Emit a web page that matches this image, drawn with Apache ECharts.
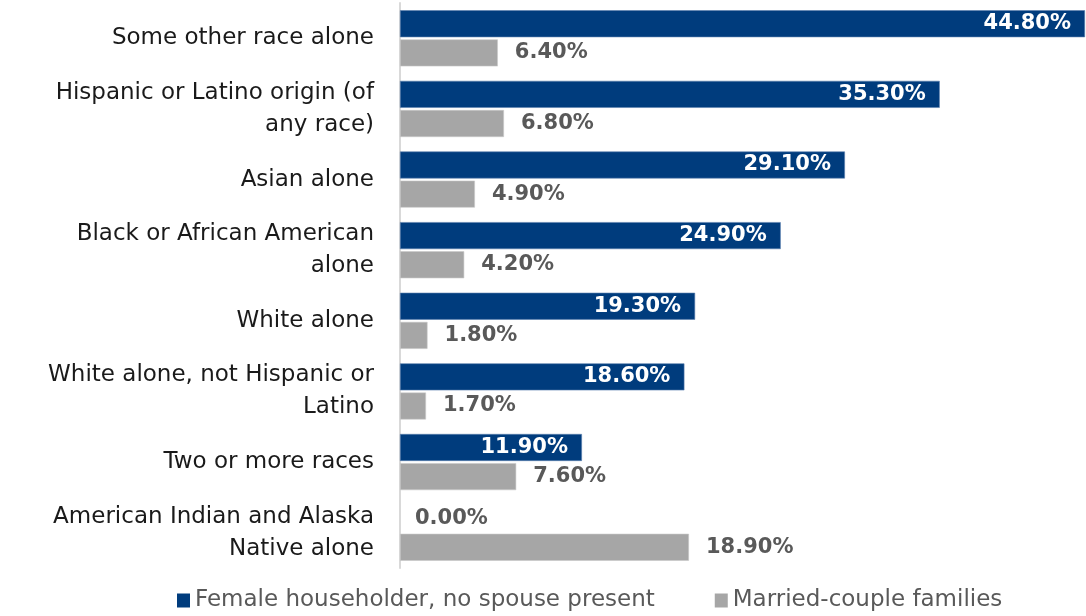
<!DOCTYPE html>
<html>
<head>
<meta charset="utf-8">
<script src="https://cdn.jsdelivr.net/npm/echarts@6/dist/echarts.min.js"></script>
<style>
  html, body { margin: 0; padding: 0; background: #fff; }
  #chart { width: 1086px; height: 616px; }
</style>
</head>
<body>
<div id="chart"></div>
<script>
// Categories, top to bottom
const categories = [
  'Some other race alone',
  'Hispanic or Latino origin (of any race)',
  'Asian alone',
  'Black or African American alone',
  'White alone',
  'White alone, not Hispanic or Latino',
  'Two or more races',
  'American Indian and Alaska Native alone'
];
// How each category label wraps on the axis
const categoryLines = [
  ['Some other race alone'],
  ['Hispanic or Latino origin (of', 'any race)'],
  ['Asian alone'],
  ['Black or African American', 'alone'],
  ['White alone'],
  ['White alone, not Hispanic or', 'Latino'],
  ['Two or more races'],
  ['American Indian and Alaska', 'Native alone']
];
const seriesNames = ['Female householder, no spouse present', 'Married-couple families'];
const femaleValues  = [44.8, 35.3, 29.1, 24.9, 19.3, 18.6, 11.9, 0.0];
const marriedValues = [6.4, 6.8, 4.9, 4.2, 1.8, 1.7, 7.6, 18.9];

const FONT = 'DejaVu Sans';
const NAVY = '#003C7D';
const GREY = '#A6A6A6';
const LABEL_GREY = '#595959';

const fmt = v => v.toFixed(2) + '%';

const chart = echarts.init(document.getElementById('chart'), null, { renderer: 'canvas' });

// A zero bar has no room for an inside label, so its label sits to the right in grey
const femaleData = femaleValues.map(v => {
  if (v === 0) {
    return {
      value: v,
      itemStyle: { borderWidth: 0 },
      label: { position: 'right', color: LABEL_GREY, distance: 15 }
    };
  }
  return v;
});

chart.setOption({
  animation: false,
  textStyle: { fontFamily: FONT },
  legend: {
    bottom: -1,
    left: 172,
    itemWidth: 13,
    itemHeight: 14,
    itemGap: 60,
    icon: 'rect',
    itemStyle: { borderWidth: 0 },
    textStyle: { fontFamily: FONT, fontSize: 23, color: LABEL_GREY },
    data: seriesNames
  },
  grid: { left: 400, right: 1, top: 3, bottom: 48, containLabel: false },
  xAxis: {
    type: 'value',
    min: 0,
    max: 44.8,
    show: false
  },
  yAxis: {
    type: 'category',
    inverse: true,
    data: categories,
    axisLine: { show: true, lineStyle: { color: '#D9D9D9', width: 2 } },
    axisTick: { show: false },
    axisLabel: {
      fontFamily: FONT,
      fontSize: 23,
      color: '#1A1A1A',
      margin: 26,
      lineHeight: 32,
      formatter: (val, idx) => categoryLines[idx].join('\n')
    }
  },
  series: [
    {
      name: seriesNames[0],
      type: 'bar',
      data: femaleData,
      barWidth: 27,
      barGap: '8%',
      itemStyle: { color: NAVY, borderColor: '#5B7FAF', borderWidth: 0.6 },
      label: {
        show: true,
        position: 'insideRight',
        distance: 14,
        color: '#fff',
        fontFamily: FONT,
        fontWeight: 'bold',
        fontSize: 21,
        formatter: p => fmt(p.value)
      }
    },
    {
      name: seriesNames[1],
      type: 'bar',
      data: marriedValues,
      barWidth: 27,
      itemStyle: { color: GREY, borderColor: '#C9C9C9', borderWidth: 0.6 },
      label: {
        show: true,
        position: 'right',
        distance: 17,
        color: LABEL_GREY,
        fontFamily: FONT,
        fontWeight: 'bold',
        fontSize: 21,
        formatter: p => fmt(p.value)
      }
    }
  ]
});
</script>
</body>
</html>
